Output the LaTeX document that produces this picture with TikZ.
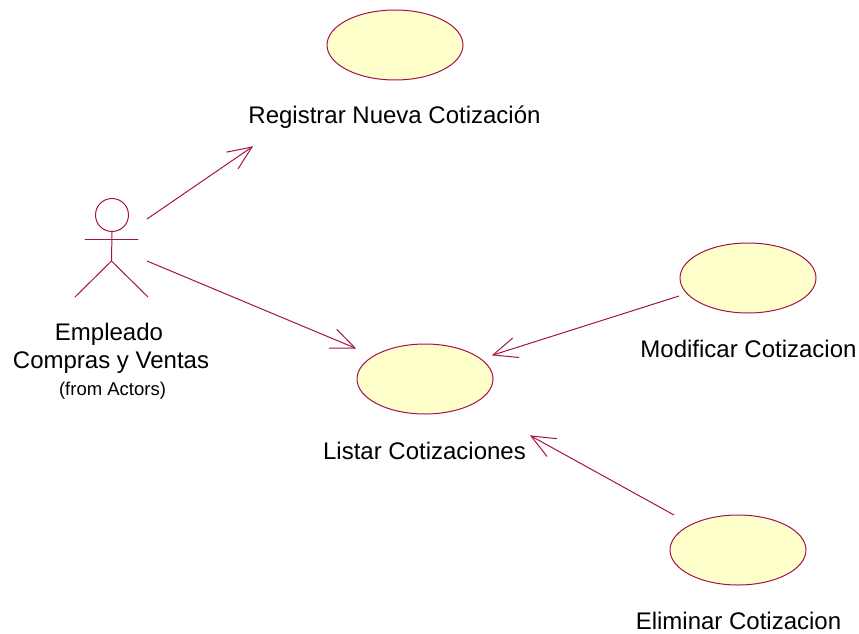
\documentclass[tikz,border=0pt]{standalone}
\usepackage{fontspec}
\setmainfont{Liberation Sans}
\usetikzlibrary{calc,shapes.geometric}
\definecolor{umlline}{HTML}{A5124A}
\definecolor{umlfill}{HTML}{FFFFCC}
\tikzset{
  usecase/.style={ellipse,draw=umlline,fill=umlfill,line width=1pt,minimum width=136pt,minimum height=70pt,inner sep=0pt},
  lbl/.style={text=black,font=\fontsize{24}{29}\selectfont,inner sep=0pt,align=center},
  assoc/.style={draw=umlline,line width=1pt,line join=miter},
  limb/.style={draw=umlline,line width=1pt,line cap=round}
}
\newcommand{\assocline}[2]{%
  \draw[assoc] (#1) -- (#2);
  \draw[assoc] ($(#2)!26pt!23:(#1)$) -- (#2) -- ($(#2)!26pt!-23:(#1)$);
}
\begin{document}
\begin{tikzpicture}[x=1pt,y=-1pt]
\useasboundingbox (0,0) rectangle (859,634);
\node[usecase] (reg) at (395,45) {};
\node[usecase] (lis) at (425,379) {};
\node[usecase] (mod) at (748,278) {};
\node[usecase] (eli) at (738,550) {};
\node[lbl] (regl) at (394.5,117) {Registrar Nueva Cotización};
\node[lbl] (lisl) at (424.5,451) {Listar Cotizaciones};
\node[lbl] (modl) at (748.5,349) {Modificar Cotizacion};
\node[lbl] (elil) at (738.5,621) {Eliminar Cotizacion};
\node[lbl] (act1) at (109,334) {Empleado};
\node[lbl] (act2) at (111,363) {Compras y Ventas};
\node[lbl,font=\fontsize{18.5}{20}\selectfont] (act3) at (112.5,391) {(from Actors)};
% actor
\node[circle,draw=umlline,line width=1pt,minimum size=33pt,inner sep=0pt] (head) at (112,215) {};
\coordinate (hip) at (111.5,261);
\coordinate (armL) at (85,239);
\coordinate (armR) at (138,239);
\coordinate (footL) at (75,297);
\coordinate (footR) at (148,297);
\draw[limb] (head.south) -- (hip);
\draw[limb] (armL) -- (armR);
\draw[limb] (footL) -- (hip) -- (footR);
% associations
\coordinate (s1) at (147,219);
\coordinate (t1) at (252,147);
\coordinate (s2) at (147,261);
\coordinate (t2) at (355,348);
\coordinate (s3) at (679,296);
\coordinate (t3) at (493,355);
\coordinate (s4) at (674,515);
\coordinate (t4) at (531,436);
\assocline{s1}{t1}
\assocline{s2}{t2}
\assocline{s3}{t3}
\assocline{s4}{t4}
\end{tikzpicture}
\end{document}
